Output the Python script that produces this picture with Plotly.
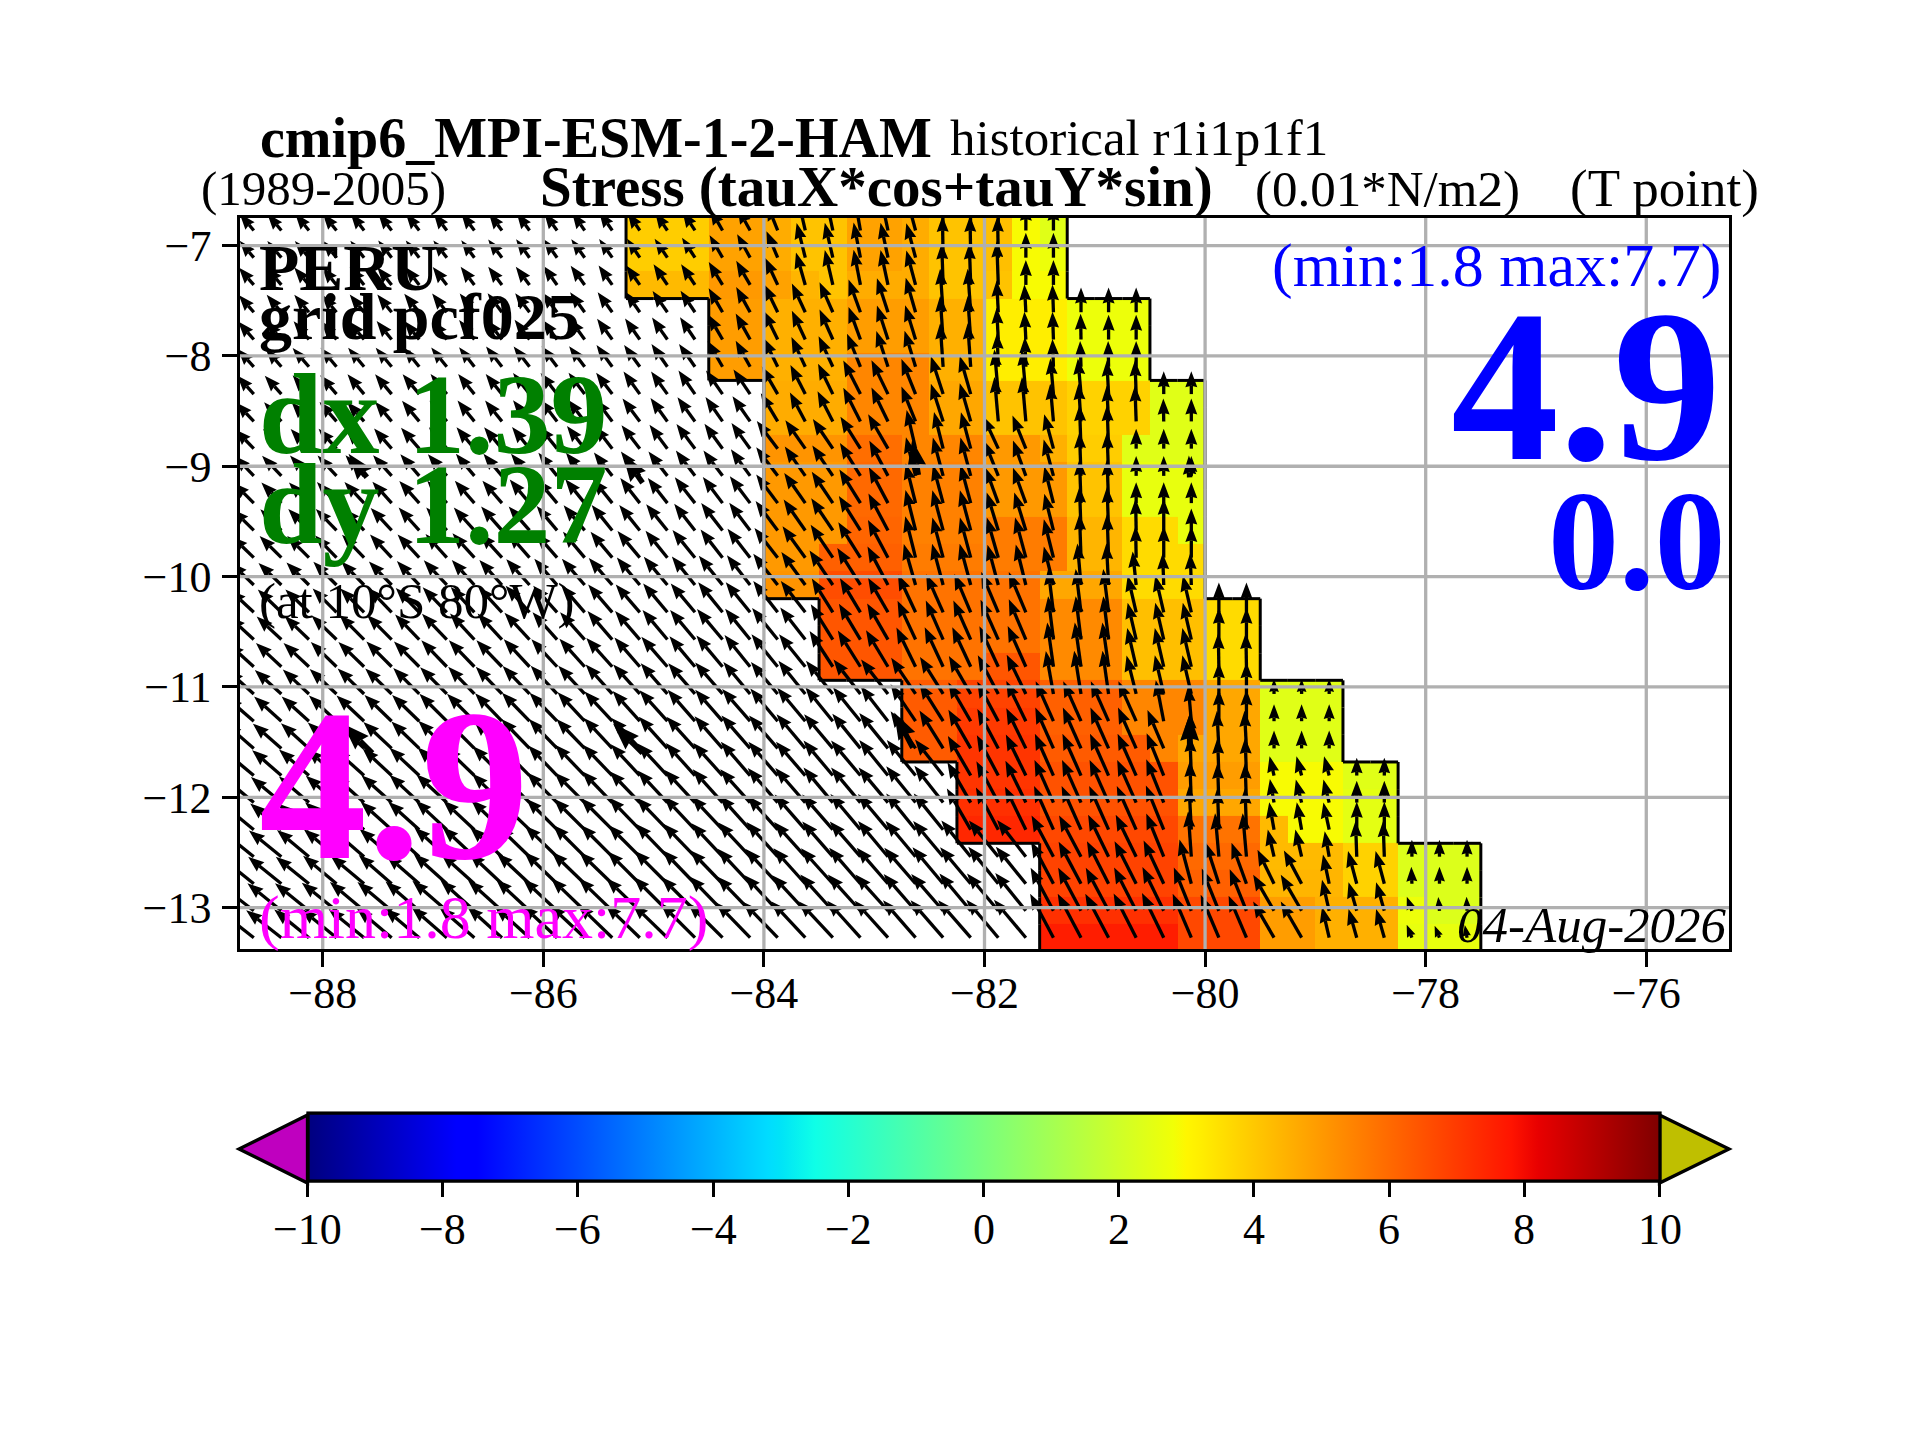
import numpy as np
import plotly.graph_objects as go

# cell edges of the pcf025 grid (latitude spacing shrinks with cos(lat))
lat_edges = [-6.74, -6.986, -7.233, -7.48, -7.728, -7.975, -8.222, -8.47, -8.717, -8.964, -9.21, -9.458, -9.705, -9.952,
             -10.2, -10.447, -10.694, -10.94, -11.187, -11.434, -11.68, -11.926, -12.17, -12.417, -12.66, -12.907, -13.15, -13.395]
lon_first = -88.75
lon_step = 0.25
lon_last = -75.25

# west limit of the 4 degree coastal band, one per row
band_west = [-85.25] * 3 + [-84.5] * 3 + [-84.0] * 8 + [-83.5] * 3 + [-82.75] * 3 + [-82.25] * 3 + [-81.5] * 4

# stress values of the band, 16 cells in each row
band_stress = [
    [3.9, 3.9, 3.9, 4.8, 4.8, 4.6, 4.1, 4.1, 4.8, 4.8, 4.6, 4.1, 4.1, 4.2, 2.9, 2.4],
    [3.9, 3.9, 3.9, 4.8, 4.8, 4.6, 4.1, 4.1, 4.8, 4.8, 4.6, 4.1, 4.1, 4.2, 2.9, 2.7],
    [4.3, 4.3, 4.3, 5.0, 5.0, 4.8, 4.4, 4.1, 4.6, 4.6, 4.6, 4.1, 4.1, 4.1, 2.9, 2.9],
    [4.9, 4.9, 4.5, 4.5, 4.5, 4.9, 4.9, 4.9, 4.5, 4.5, 3.2, 3.2, 3.2, 2.7, 2.7, 2.7],
    [4.9, 4.9, 4.5, 4.5, 4.5, 4.9, 4.9, 4.9, 4.5, 4.5, 3.2, 3.2, 3.2, 2.7, 2.7, 2.7],
    [4.9, 4.9, 4.5, 4.5, 4.5, 5.4, 5.4, 5.4, 4.5, 4.5, 3.2, 3.2, 3.2, 2.7, 2.7, 2.7],
    [4.6, 4.6, 4.6, 5.4, 5.4, 5.4, 4.7, 4.7, 4.1, 4.1, 4.1, 3.8, 3.8, 3.8, 2.4, 2.4],
    [4.6, 4.6, 4.6, 5.4, 5.4, 5.4, 4.7, 4.7, 4.1, 4.1, 4.1, 3.8, 3.8, 3.8, 2.4, 2.4],
    [5.1, 5.1, 5.1, 5.9, 5.9, 5.4, 5.4, 5.4, 5.0, 5.0, 4.5, 3.9, 3.9, 2.4, 2.4, 2.4],
    [5.0, 5.0, 5.0, 6.0, 6.0, 5.5, 5.5, 5.5, 5.0, 5.0, 5.0, 4.1, 4.1, 2.6, 2.6, 2.6],
    [5.0, 5.0, 5.0, 6.0, 6.0, 5.5, 5.5, 5.5, 5.0, 5.0, 5.0, 4.1, 4.1, 2.6, 2.6, 2.6],
    [5.0, 5.0, 5.0, 6.1, 6.1, 5.5, 5.5, 5.5, 5.6, 5.6, 5.6, 4.4, 4.4, 3.6, 3.6, 2.6],
    [5.0, 5.0, 6.2, 6.2, 6.2, 5.6, 5.6, 5.6, 5.6, 5.6, 5.6, 4.4, 4.4, 3.6, 3.6, 3.6],
    [5.1, 5.1, 6.6, 6.6, 6.6, 5.8, 5.8, 5.8, 5.8, 5.8, 4.7, 4.7, 4.7, 3.6, 3.6, 3.6],
    [6.4, 6.4, 6.4, 5.8, 5.8, 5.8, 5.8, 5.8, 5.3, 5.3, 5.3, 4.2, 4.2, 4.2, 3.6, 3.6],
    [6.4, 6.4, 6.4, 5.8, 5.8, 5.8, 5.8, 5.8, 5.3, 5.3, 5.3, 4.2, 4.2, 4.2, 3.6, 3.6],
    [6.4, 6.4, 6.4, 5.8, 5.8, 5.8, 6.4, 6.4, 5.3, 5.3, 5.3, 4.2, 4.2, 4.2, 3.6, 3.6],
    [6.3, 6.3, 6.8, 6.8, 6.8, 6.2, 6.2, 6.2, 5.4, 5.4, 5.4, 4.7, 4.7, 2.4, 2.4, 2.4],
    [6.3, 6.3, 7.0, 7.0, 7.0, 6.2, 6.2, 6.2, 5.4, 5.4, 5.4, 4.7, 4.7, 2.4, 2.4, 2.4],
    [6.3, 6.3, 7.1, 7.1, 7.1, 6.3, 6.3, 6.3, 6.3, 5.4, 4.7, 4.7, 4.7, 2.4, 2.4, 2.4],
    [7.1, 7.1, 7.1, 6.5, 6.5, 6.5, 6.5, 6.5, 4.9, 4.9, 4.9, 2.9, 2.9, 2.9, 2.4, 2.4],
    [7.2, 7.2, 7.2, 6.5, 6.5, 6.5, 6.5, 6.5, 4.7, 4.7, 4.7, 2.9, 2.9, 2.9, 2.5, 2.5],
    [7.4, 7.4, 7.4, 6.7, 6.7, 6.7, 6.7, 6.7, 5.8, 5.8, 5.8, 4.3, 2.9, 2.9, 2.5, 2.5],
    [6.8, 6.8, 6.8, 6.8, 6.8, 6.0, 6.0, 6.0, 4.3, 4.3, 4.3, 3.8, 3.8, 2.3, 2.3, 2.3],
    [6.8, 6.8, 6.8, 6.8, 6.8, 6.2, 6.2, 6.2, 4.4, 4.4, 4.4, 3.8, 3.8, 2.3, 2.3, 2.3],
    [7.2, 7.2, 7.2, 7.2, 7.2, 6.7, 6.7, 6.7, 4.9, 4.9, 4.5, 4.5, 4.5, 2.7, 2.3, 2.3],
    [7.6, 7.6, 7.6, 7.6, 7.6, 6.7, 6.7, 6.7, 4.9, 4.9, 4.5, 4.5, 4.5, 2.6, 2.6, 2.6],
]

# wind stress arrows, row by row from the west: direction (deg from east)
arrow_dir = [
    [130,130,129,129,128,128,128,127,127,127,126,126,125,125,124,124,123,120,119,112,103,102,100,102,105,91,91,90,90,90],
    [130,130,130,129,129,128,128,128,127,127,126,126,126,125,124,124,123,120,119,113,104,103,101,102,105,91,91,91,90,90],
    [131,130,130,129,129,129,128,128,127,127,127,126,126,125,125,124,124,121,120,115,106,103,101,102,105,92,92,92,90,90],
    [131,130,130,130,129,129,129,128,128,127,127,127,126,126,125,125,124,120,119,116,115,114,110,108,106,94,94,93,93,92,90,90,90],
    [131,131,130,130,130,129,129,128,128,128,127,127,126,126,125,125,124,120,119,116,115,114,110,108,107,94,94,93,93,92,91,90,90],
    [132,131,131,130,130,130,129,129,128,128,128,127,127,126,126,125,125,120,119,116,115,115,112,108,107,94,94,92,92,92,92,91,90],
    [132,132,131,131,130,130,130,129,129,129,128,128,127,127,126,126,125,125,124,120,117,116,117,116,112,108,106,95,95,95,95,93,92,90,90],
    [133,132,132,131,131,130,130,130,129,129,128,128,128,127,127,126,126,125,125,121,118,117,117,116,112,108,106,95,95,95,94,93,92,91,90],
    [134,133,133,132,132,131,131,130,130,130,129,129,128,128,128,127,127,126,126,127,125,124,122,120,103,104,105,115,112,105,92,92,90,90,90],
    [134,134,133,133,132,132,131,131,130,130,130,129,129,128,128,128,127,127,126,127,125,124,122,118,104,105,105,112,110,105,92,92,90,90,90],
    [135,134,134,133,133,132,132,131,131,131,130,130,129,129,128,128,128,127,127,127,125,124,122,118,104,105,105,110,110,104,92,92,90,90,90],
    [135,135,134,134,133,133,132,132,132,131,131,130,130,129,129,129,128,128,127,127,125,124,122,118,104,105,105,107,107,104,92,92,91,90,90],
    [136,135,135,134,134,133,133,132,132,132,131,131,130,130,130,129,129,128,128,128,126,124,122,118,104,105,105,106,105,104,92,92,91,90,90],
    [136,136,135,135,134,134,133,133,132,132,132,131,131,131,130,130,129,129,128,128,126,124,122,118,106,105,105,105,104,104,95,93,96,92,92],
    [137,136,136,135,135,134,134,134,133,133,132,132,131,131,131,130,130,129,129,128,128,122,121,120,115,114,113,113,113,97,97,97,103,103,103,90,90],
    [137,137,136,136,135,135,134,134,133,133,133,132,132,131,131,130,130,130,129,129,128,122,121,120,115,114,114,114,113,97,97,97,103,103,103,90,90],
    [138,137,137,136,136,135,135,134,134,134,133,133,132,132,131,131,130,130,129,129,129,123,122,121,116,115,115,115,114,98,98,98,103,103,103,91,91],
    [138,138,137,137,136,136,135,135,134,134,134,133,133,132,132,131,131,131,130,130,129,129,128,128,124,122,120,118,116,100,99,98,104,103,103,90,90,90,90,90],
    [139,138,138,137,137,136,136,135,135,134,134,134,133,133,132,132,131,131,131,130,130,129,129,128,124,122,120,118,116,114,114,114,114,101,95,90,90,90,90,90],
    [139,139,138,138,137,137,136,136,135,135,134,134,134,133,133,132,132,131,131,131,130,130,129,129,124,122,120,118,116,114,114,114,114,113,92,93,93,90,90,90],
    [140,139,139,138,138,137,137,136,136,135,135,134,134,134,133,133,132,132,131,131,131,130,130,129,129,128,120,118,116,114,114,114,114,112,92,92,92,103,105,105,90,90],
    [140,140,139,139,138,138,137,137,136,136,135,135,135,134,134,133,133,132,132,131,131,130,130,130,129,128,120,118,116,114,114,114,114,112,92,92,92,100,104,104,90,90],
    [141,140,140,139,139,138,138,137,137,136,136,135,135,135,134,134,133,133,132,132,131,131,130,130,129,129,120,118,116,114,114,114,114,112,93,92,92,100,100,102,90,90],
    [141,141,140,140,139,139,138,138,137,137,136,136,135,135,135,134,134,133,133,132,132,131,131,130,130,130,129,129,128,118,118,116,116,112,94,95,95,103,103,100,92,92,90,90,90],
    [141,141,141,140,140,139,139,138,138,137,137,136,136,136,135,135,134,134,133,133,132,132,131,131,131,130,130,129,129,118,118,117,117,115,105,108,110,116,118,102,105,105,92,90,90],
    [142,141,141,141,140,140,139,139,138,138,137,137,136,136,136,135,135,134,134,133,133,132,132,132,131,131,130,130,129,118,118,118,117,116,112,112,112,120,120,103,106,106,110,95,92],
    [142,142,141,141,141,140,140,139,139,138,138,137,137,136,136,136,135,135,134,134,133,133,132,132,131,131,131,130,130,118,118,118,117,116,113,113,113,120,120,103,106,106,112,112,100],
]

# magnitude of the same arrows, in tenths of 0.01 N/m2
arrow_mag = [
    [22,22,22,22,22,22,22,22,22,22,22,22,22,23,22,22,23,25,26,28,36,36,36,36,36,42,42,42,26,26],
    [22,22,22,22,22,22,22,22,22,23,23,23,23,23,23,23,24,26,27,29,36,36,36,36,36,42,42,42,25,25],
    [23,23,23,23,23,23,23,23,23,23,23,24,24,24,24,25,25,27,28,30,34,36,36,36,36,42,42,44,25,25],
    [23,23,23,23,23,23,24,24,24,24,24,25,25,25,25,26,26,28,29,31,32,33,35,36,36,44,44,32,28,28,25,25,25],
    [24,24,24,24,24,24,24,24,25,25,25,25,26,26,26,27,27,29,30,32,32,33,35,36,36,44,44,32,28,28,26,25,25],
    [24,24,25,25,25,25,25,25,25,26,26,26,26,27,27,28,28,30,30,32,33,34,36,38,38,44,44,34,30,28,26,26,26],
    [25,25,25,25,26,26,26,26,26,26,27,27,27,27,28,28,29,29,30,32,33,34,38,38,38,40,40,45,45,36,36,34,34,23,23],
    [26,26,26,26,26,26,27,27,27,27,27,28,28,28,29,29,30,30,31,33,33,34,38,38,38,40,40,45,45,38,38,36,36,23,23],
    [27,27,27,27,27,27,28,28,28,28,28,29,29,29,30,30,31,31,32,35,35,36,38,40,40,38,38,36,36,36,44,44,20,20,20],
    [28,28,28,28,28,28,29,29,29,29,29,30,30,30,31,31,32,32,33,36,36,37,39,40,40,40,40,38,38,38,44,44,20,20,20],
    [29,29,29,29,29,29,30,30,30,30,31,31,31,31,32,32,33,33,34,36,37,38,40,41,41,40,40,38,38,38,44,44,21,21,21],
    [30,30,30,30,30,31,31,31,31,32,32,32,33,33,33,34,34,35,35,37,38,39,41,42,42,42,42,40,40,38,44,44,32,32,22],
    [31,31,31,31,32,32,32,32,33,33,33,33,34,34,35,35,36,36,37,38,39,40,42,43,43,42,42,42,42,40,44,44,32,32,32],
    [32,32,32,33,33,33,33,34,34,34,35,35,35,36,36,37,37,38,38,40,41,42,44,44,43,43,43,42,42,40,42,42,34,32,32],
    [33,33,33,34,34,34,34,35,35,35,36,36,36,37,37,38,38,39,39,40,40,40,40,40,42,42,42,44,44,44,44,44,38,38,38,30,30],
    [34,34,34,35,35,35,35,36,36,36,37,37,37,38,38,39,39,40,40,41,41,42,42,42,43,43,43,44,44,44,44,44,38,38,38,32,32],
    [35,35,35,36,36,36,36,37,37,37,38,38,38,39,39,40,40,41,41,42,42,43,43,43,44,44,44,45,45,45,45,45,40,40,40,34,34],
    [36,36,36,37,37,37,37,38,38,38,39,39,39,40,40,41,41,42,42,42,43,43,44,44,44,44,44,44,44,44,44,44,40,40,40,32,32,15,15,15],
    [37,37,37,38,38,38,38,39,39,39,40,40,40,41,41,42,42,42,43,43,44,44,44,45,45,45,45,45,45,44,44,44,44,42,36,32,32,17,17,17],
    [38,38,38,39,39,39,39,40,40,40,41,41,41,42,42,43,43,43,44,44,45,45,45,46,45,45,45,45,45,45,45,45,45,42,36,38,38,18,18,18],
    [39,39,40,40,40,40,41,41,41,42,42,42,43,43,43,44,44,44,45,45,45,46,46,46,46,46,46,46,46,46,46,46,46,46,40,38,38,20,20,20,18,18],
    [40,40,40,41,41,41,41,42,42,42,43,43,43,44,44,44,45,45,45,46,46,46,46,46,47,47,47,47,47,47,47,47,47,47,42,40,40,24,24,24,22,22],
    [41,41,41,42,42,42,42,43,43,43,44,44,44,45,45,45,46,46,46,46,47,47,47,47,47,47,48,48,48,48,48,48,48,48,44,42,42,28,28,28,28,28],
    [42,42,42,43,43,43,43,44,44,44,44,45,45,45,45,46,46,46,47,47,47,47,47,47,47,47,47,47,47,47,47,47,47,47,46,44,44,28,28,26,36,36,17,17,17],
    [43,43,43,44,44,44,44,45,45,45,45,46,46,46,46,47,47,47,48,48,48,48,48,48,48,48,48,48,48,48,48,48,48,48,46,44,44,38,38,30,34,34,17,17,17],
    [44,44,44,45,45,45,45,46,46,46,46,47,47,47,47,48,48,48,48,49,49,49,49,49,49,49,49,49,49,49,49,49,49,49,47,46,45,42,42,32,30,30,15,14,14],
    [45,45,45,46,46,46,46,47,47,47,47,48,48,48,48,49,49,49,49,50,50,50,50,50,50,50,50,50,50,50,50,50,50,50,48,47,46,42,42,32,30,30,14,13,13],
]

# the few thicker arrows (tail position, direction, magnitude)
big_lon = [-87.6, -85.1, -82.6, -80.14, -87.55, -85.1, -82.65, -80.14]
big_lat = [-9.1, -9.15, -9.08, -9.1, -11.6, -11.6, -11.55, -11.54]
big_dir = [128, 125, 100, 92, 135, 135, 118, 90]
big_mag = [30, 35, 36, 22, 42, 42, 40, 33]

xticks = [-88, -86, -84, -82, -80, -78, -76]
yticks = [-13, -12, -11, -10, -9, -8, -7]
cbar_ticks = [-10, -8, -6, -4, -2, 0, 2, 4, 6, 8, 10]
cbar_labels = ['\u221210', '\u22128', '\u22126', '\u22124', '\u22122', '0', '2', '4', '6', '8', '10']

jet = [[0, '#00007f'], [0.11, '#0000ff'], [0.125, '#0000ff'], [0.34, '#00dcff'], [0.35, '#00e4f7'], [0.375, '#0fffe7'],
       [0.64, '#f1ff06'], [0.65, '#fff600'], [0.66, '#ffee00'], [0.89, '#ff1400'], [0.91, '#e80000'], [1, '#7f0000']]

W, H = 1920, 1440
L, R, T, B = 240, 1729, 218, 949
PX = (R - L) / (lon_last - lon_first)  # pixels per degree
LEN_SCALE = 0.09 / 10  # degrees of arrow for one unit of arrow_mag
SERIF = 'Liberation Serif'
CB_LEFT, CB_RIGHT, CB_TOP, CB_BOT = 307.5, 1659.5, 1115, 1183


def px(x):
    return (x - L) / (R - L)


def py(y):
    return (B - y) / (B - T)


lon_edges = np.arange(lon_first, lon_last + 0.01, lon_step)
nrow, ncol = len(lat_edges) - 1, len(lon_edges) - 1
z = np.full((nrow, ncol), np.nan)
for r in range(nrow):
    c0 = int(round((band_west[r] - lon_first) / lon_step))
    z[r, c0:c0 + 16] = band_stress[r]

# outline of the coloured band, taken from the mask
ox, oy = [], []
for r in range(nrow):
    for c in range(ncol):
        if np.isnan(z[r, c]):
            continue
        if c > 0 and np.isnan(z[r, c - 1]):
            ox += [lon_edges[c], lon_edges[c], None]
            oy += [lat_edges[r], lat_edges[r + 1], None]
        if c < ncol - 1 and np.isnan(z[r, c + 1]):
            ox += [lon_edges[c + 1], lon_edges[c + 1], None]
            oy += [lat_edges[r], lat_edges[r + 1], None]
        if r > 0 and np.isnan(z[r - 1, c]):
            ox += [lon_edges[c], lon_edges[c + 1], None]
            oy += [lat_edges[r], lat_edges[r], None]
        if r < nrow - 1 and np.isnan(z[r + 1, c]):
            ox += [lon_edges[c], lon_edges[c + 1], None]
            oy += [lat_edges[r + 1], lat_edges[r + 1], None]


def arrows(lons, lats, dirs, mags, head_len, head_wid):
    sx, sy, hx, hy = [], [], [], []
    for x0, y0, d, m in zip(lons, lats, dirs, mags):
        n = m * LEN_SCALE
        ux, uy = np.cos(np.radians(d)), np.sin(np.radians(d))
        k = min(1.0, n / (1.15 * head_len / PX))
        hl, hw = k * head_len / PX, k * head_wid / PX
        tx, ty = x0 + n * ux, y0 + n * uy
        bx, by = tx - hl * ux, ty - hl * uy
        nx, ny = tx - 0.9 * hl * ux, ty - 0.9 * hl * uy
        sx += [x0, nx, None]
        sy += [y0, ny, None]
        hx += [tx, bx - hw / 2 * uy, nx, bx + hw / 2 * uy, tx, None]
        hy += [ty, by + hw / 2 * ux, ny, by - hw / 2 * ux, ty, None]
    return sx, sy, hx, hy


alon, alat, adir, amag = [], [], [], []
for r in range(nrow):
    yc = (lat_edges[r] + lat_edges[r + 1]) / 2
    for c, (d, m) in enumerate(zip(arrow_dir[r], arrow_mag[r])):
        alon.append(lon_edges[c] + lon_step / 2)
        alat.append(yc)
        adir.append(d)
        amag.append(m)

sx, sy, hx, hy = arrows(alon, alat, adir, amag, 16, 12)
bsx, bsy, bhx, bhy = arrows(big_lon, big_lat, big_dir, big_mag, 27, 19)

gx, gy = [], []
for t in xticks:
    gx += [t, t, None]
    gy += [-13.375, -6.75, None]
for t in yticks:
    gx += [lon_first, lon_last, None]
    gy += [t, t, None]

fig = go.Figure()
fig.add_trace(go.Heatmap(
    x=lon_edges, y=lat_edges[::-1], z=z[::-1], zmin=-10, zmax=10, colorscale=jet, hoverinfo='skip',
    colorbar=dict(orientation='h', x=px(CB_LEFT), xanchor='left', y=py(CB_BOT + 16), yanchor='bottom',
                  lenmode='pixels', len=CB_RIGHT - CB_LEFT, thicknessmode='pixels', thickness=CB_BOT - CB_TOP,
                  xpad=0, ypad=0, outlinecolor='black', outlinewidth=3.3, ticks='outside', ticklen=14.6, tickwidth=3.3,
                  tickcolor='black', tickvals=cbar_ticks, showticklabels=False),
))
fig.add_trace(go.Scatter(x=ox, y=oy, mode='lines', line=dict(color='black', width=3), hoverinfo='skip', showlegend=False))
fig.add_trace(go.Scatter(x=sx, y=sy, mode='lines', line=dict(color='black', width=3.3), hoverinfo='skip', showlegend=False))
fig.add_trace(go.Scatter(x=hx, y=hy, mode='lines', fill='toself', fillcolor='black', line=dict(color='black', width=0),
                         hoverinfo='skip', showlegend=False))
fig.add_trace(go.Scatter(x=bsx, y=bsy, mode='lines', line=dict(color='black', width=5.5), hoverinfo='skip', showlegend=False))
fig.add_trace(go.Scatter(x=bhx, y=bhy, mode='lines', fill='toself', fillcolor='black', line=dict(color='black', width=0),
                         hoverinfo='skip', showlegend=False))
fig.add_trace(go.Scatter(x=gx, y=gy, mode='lines', line=dict(color='#b0b0b0', width=3.3), hoverinfo='skip', showlegend=False))


def label(x, y, text, size, color='black', anchor='left'):
    fig.add_annotation(x=px(x), y=py(y), xref='paper', yref='paper', text=text, showarrow=False, xanchor=anchor,
                       yanchor='middle', borderpad=0, font=dict(family=SERIF, size=size, color=color))


label(259, 138, '<b>cmip6_MPI-ESM-1-2-HAM</b>', 56)
label(949, 138, 'historical r1i1p1f1', 51)
label(200, 189, '(1989-2005)', 49)
label(539, 187, '<b>Stress (tauX*cos+tauY*sin)</b>', 57)
label(1254, 189, '(0.01*N/m2)', 51)
label(1760, 189, '(T point)', 53, anchor='right')
label(258, 267, '<b>PERU</b>', 66)
label(258, 316, '<b>grid pcf025</b>', 66)
label(258, 414, '<b>dx 1.39</b>', 114, 'green')
label(258, 504, '<b>dy 1.27</b>', 114, 'green')
label(258, 601, '(at 10\u00b0S 80\u00b0W)', 51)
label(258, 785, '<b>4.9</b>', 216, 'magenta')
label(258, 917, '(min:1.8 max:7.7)', 62, 'magenta')
label(1722, 265, '(min:1.8 max:7.7)', 62, 'blue', 'right')
label(1722, 386, '<b>4.9</b>', 216, 'blue', 'right')
label(1727, 541, '<b>0.0</b>', 142, 'blue', 'right')
label(1728, 925, '<i>04-Aug-2026</i>', 51, anchor='right')
for v, t in zip(cbar_ticks, cbar_labels):
    label(CB_LEFT + (v + 10) / 20 * (CB_RIGHT - CB_LEFT), 1229, t, 44, anchor='center')

# extension triangles of the colour bar
cb_mid = (CB_TOP + CB_BOT) / 2
fig.add_shape(type='path', xref='paper', yref='paper', layer='above', fillcolor='#bf00bf', line=dict(color='black', width=3.3),
              path=f'M {px(CB_LEFT)},{py(CB_TOP)} L {px(239)},{py(cb_mid)} L {px(CB_LEFT)},{py(CB_BOT)} Z')
fig.add_shape(type='path', xref='paper', yref='paper', layer='above', fillcolor='#bfbf00', line=dict(color='black', width=3.3),
              path=f'M {px(CB_RIGHT)},{py(CB_TOP)} L {px(1729)},{py(cb_mid)} L {px(CB_RIGHT)},{py(CB_BOT)} Z')

axis_font = dict(family=SERIF, size=44, color='black')
fig.update_xaxes(range=[lon_first, lon_last], tick0=-88, dtick=2, showgrid=False, zeroline=False, ticks='outside', ticklen=14.6,
                 tickwidth=3.3, tickcolor='black', linecolor='black', linewidth=3.3, mirror=True, tickfont=axis_font,
                 ticklabelstandoff=-12)
fig.update_yaxes(range=[-13.375, -6.75], tick0=-13, dtick=1, showgrid=False, zeroline=False, ticks='outside', ticklen=14.6,
                 tickwidth=3.3, tickcolor='black', linecolor='black', linewidth=3.3, mirror=True, tickfont=axis_font,
                 ticklabelstandoff=2)
fig.update_layout(width=W, height=H, autosize=False, margin=dict(l=L, r=W - R, t=T, b=H - B, pad=0), plot_bgcolor='white',
                  paper_bgcolor='white', showlegend=False)

fig.write_html("out.html", config=dict(displayModeBar=False), post_script="document.body.style.margin='0';")
